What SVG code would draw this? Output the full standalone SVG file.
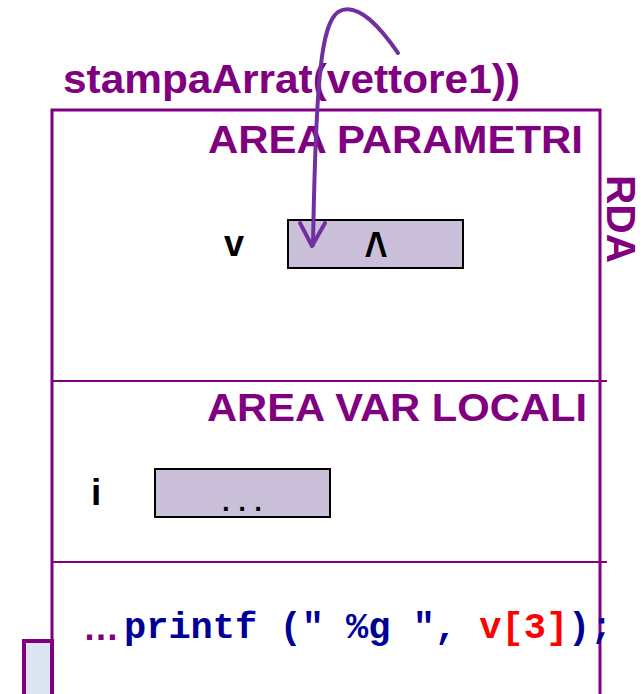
<svg xmlns="http://www.w3.org/2000/svg" width="642" height="694" viewBox="0 0 642 694">
<style>
.ttl{font-family:"Liberation Sans",Arial,sans-serif;font-weight:bold;fill:#800080}
.lbl{font-family:"Liberation Sans",Arial,sans-serif;font-weight:bold;fill:#000}
.cell{fill:#CBC0DA;stroke:#000;stroke-width:2}
.code{font-family:"Liberation Mono","Courier New",monospace;font-weight:bold;font-size:37px}
.frame{fill:none;stroke:#800080}
</style>
<rect width="642" height="694" fill="#fff"/>
<g id="frame">
<rect x="24" y="641" width="28" height="60" fill="#DCE6F2" stroke="#800080" stroke-width="4"/>
<path class="frame" d="M52,694 V110 H600 V694" stroke-width="3"/>
<line class="frame" x1="52" y1="381" x2="607" y2="381" stroke-width="2"/>
<line class="frame" x1="52" y1="562" x2="607" y2="562" stroke-width="2"/>
<text class="ttl" x="607" y="175" font-size="40" transform="rotate(90 607 175)" textLength="88" lengthAdjust="spacingAndGlyphs">RDA</text>
</g>
<text id="title" class="ttl" x="63" y="93" font-size="40" textLength="457" lengthAdjust="spacingAndGlyphs">stampaArrat(vettore1))</text>
<g id="area-parametri">
<text class="ttl" x="208" y="153" font-size="39" textLength="375" lengthAdjust="spacingAndGlyphs">AREA PARAMETRI</text>
</g>
<g id="param-v">
<text class="lbl" x="224" y="256" font-size="36">v</text>
<rect class="cell" x="288" y="220" width="175" height="48"/>
<text class="lbl" font-size="44" text-anchor="middle" transform="translate(376,271) scale(0.9,1.3)">^</text>
</g>
<g id="area-var-locali">
<text class="ttl" x="207" y="421" font-size="39" textLength="380" lengthAdjust="spacingAndGlyphs">AREA VAR LOCALI</text>
</g>
<g id="local-i">
<text class="lbl" x="91" y="505" font-size="37">i</text>
<rect class="cell" x="155" y="469" width="175" height="48"/>
<text x="242" y="511" font-family="Liberation Mono,'Courier New',monospace" font-weight="bold" font-size="27" text-anchor="middle">...</text>
</g>
<g id="code">
<text x="83" y="640" font-family="'Liberation Sans',Arial,sans-serif" font-weight="bold" font-size="36" fill="#800080">…</text>
<text class="code" x="124" y="638"><tspan fill="#000099">printf (" %g ", </tspan><tspan fill="#FF0000">v[3]</tspan><tspan fill="#000099">);</tspan></text>
</g>
<g id="connectors" fill="none" stroke="#7030A0" stroke-width="4" stroke-linecap="round" stroke-linejoin="round">
<path d="M398,53 C382,30 358,0 338,12 C322,24 316,70 313,245"/>
<path d="M300,223 L312,246 L325,223"/>
</g>
</svg>
